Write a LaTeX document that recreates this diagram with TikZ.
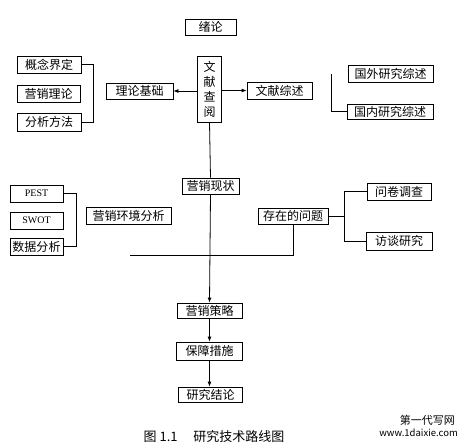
\documentclass[tikz,border=0pt]{standalone}
\usepackage{fontspec}
\newfontfamily\cjk{Noto Sans CJK SC}
\newfontfamily\lserif{Liberation Serif}
\usetikzlibrary{arrows.meta}
\begin{document}
\begin{tikzpicture}[x=1pt,y=-1pt,
  box/.style={draw=black, line width=0.8pt, fill=white, inner sep=0pt,
    font=\cjk\fontsize{12}{14}\selectfont},
  lat/.style={box, font=\lserif\fontsize{10}{12}\selectfont},
  link/.style={line width=0.8pt},
  arr/.style={line width=0.8pt, -{Latex[length=5pt,width=4pt]}}]
\useasboundingbox[fill=white] (0,0) rectangle (465,447);

% top
\node[box, minimum width=51pt, minimum height=16pt] (xulun) at (210.5,27) {绪论};
\node[box, minimum width=24pt, minimum height=66pt, align=center,
  font=\cjk\fontsize{12}{15}\selectfont] (wxcy) at (209.5,89) {文\\献\\查\\阅};
\node[box, minimum width=67pt, minimum height=16pt] (llj) at (139.5,91) {理论基础};
\node[box, minimum width=65pt, minimum height=17pt] (wxzs) at (279.5,90.5) {文献综述};
\node[box, minimum width=85pt, minimum height=17pt] (gwyj) at (390.5,73.5) {国外研究综述};
\node[box, minimum width=86pt, minimum height=15pt] (gnyj) at (390,111.5) {国内研究综述};
\node[box, minimum width=64pt, minimum height=17pt] (gnjd) at (49,64.5) {概念界定};
\node[box, minimum width=63pt, minimum height=17pt] (yxll) at (48.5,93.5) {营销理论};
\node[box, minimum width=64pt, minimum height=18pt] (fxff) at (49,122) {分析方法};

% middle
\node[box, minimum width=57pt, minimum height=16pt] (yxxz) at (210.5,186) {营销现状};
\node[lat, minimum width=53pt, minimum height=17pt] (pest) at (36.5,193.5) {PEST};
\node[lat, minimum width=53pt, minimum height=17pt] (swot) at (36.5,220.5) {SWOT};
\node[box, minimum width=53pt, minimum height=17pt] (sjfx) at (36.5,246.5) {数据分析};
\node[box, minimum width=85pt, minimum height=17pt] (yxhj) at (128.5,215.5) {营销环境分析};
\node[box, minimum width=70pt, minimum height=16pt] (czwt) at (293,216) {存在的问题};
\node[box, minimum width=64pt, minimum height=17pt] (wjdc) at (399,191.5) {问卷调查};
\node[box, minimum width=66pt, minimum height=18pt] (ftyj) at (399,241) {访谈研究};

% bottom
\node[box, minimum width=65pt, minimum height=15pt] (yxcl) at (209.5,310.5) {营销策略};
\node[box, minimum width=66pt, minimum height=18pt] (bzcs) at (209.5,351) {保障措施};
\node[box, minimum width=64pt, minimum height=15pt] (yjjl) at (210.5,394.5) {研究结论};

% connectors
\draw[arr] (wxcy.west |- llj.east) -- (llj.east);
\draw[arr] (wxcy.east |- wxzs.west) -- (wxzs.west);
\coordinate (gb) at (331,74);
\draw[link] (gb) |- (gnyj.west);
\draw[link] (gnjd.east) -- ++(12,0) |- (fxff.east);
\draw[link] (pest.east) -- ++(13,0) |- (sjfx.east);
\draw[link] (wxcy.south) -- (yxxz.north);
\draw[arr] (yxxz.south) -- (yxcl.north);
\coordinate (hl) at (130,255);
\draw[link] (hl) -| (czwt.south);
\draw[link] (czwt.east) -- ++(17,0);
\draw[link] (wjdc.west) -- ++(-22,0) |- (ftyj.west);
\draw[arr] (yxcl.south) -- (bzcs.north);
\draw[arr] (bzcs.south) -- (yjjl.north -| bzcs.south);

% caption and mark
\node[font=\cjk\fontsize{13}{15}\selectfont, inner sep=0pt] (cap) at (214,437) {图 1.1\hspace{1.2em}研究技术路线图};
\node[font=\cjk\fontsize{11}{13}\selectfont, inner sep=0pt, anchor=east] (wm1) at (455,420) {第一代写网};
\node[font=\cjk\fontsize{9.5}{11}\selectfont, inner sep=0pt, anchor=east] (wm2) at (458,433) {www.1daixie.com};
\end{tikzpicture}
\end{document}
